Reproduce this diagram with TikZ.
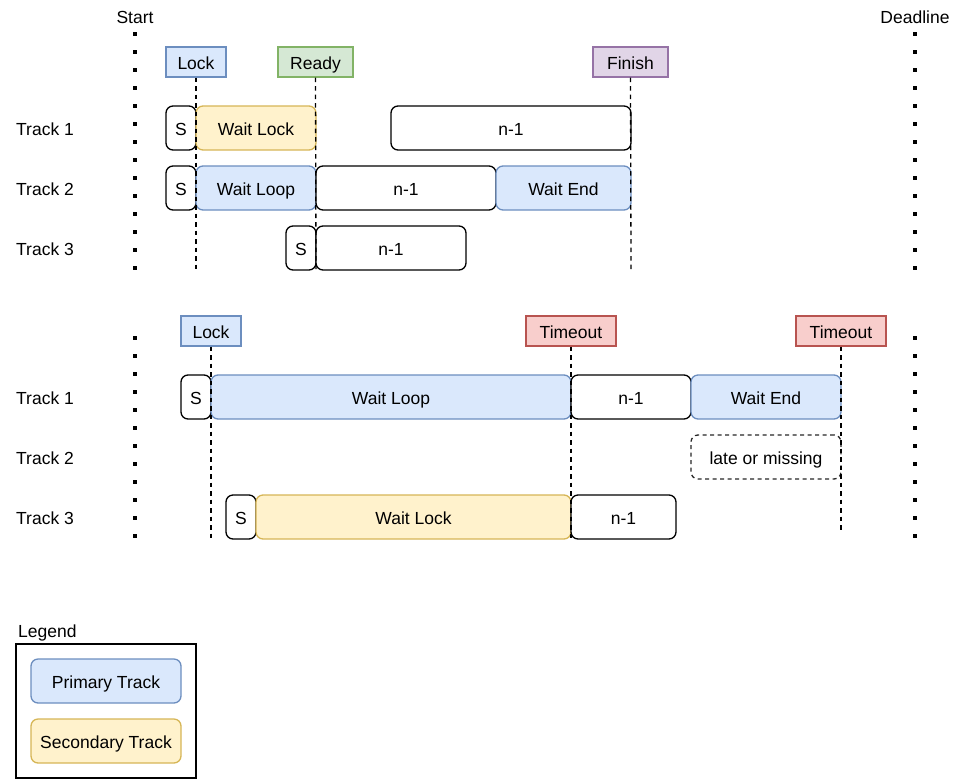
\documentclass[tikz,border=0pt]{standalone}
\usepackage{fontspec}
\setmainfont{Liberation Sans}
\definecolor{blueF}{HTML}{DAE8FC}\definecolor{blueD}{HTML}{6C8EBF}
\definecolor{yelF}{HTML}{FFF2CC}\definecolor{yelD}{HTML}{D6B656}
\definecolor{greF}{HTML}{D5E8D4}\definecolor{greD}{HTML}{82B366}
\definecolor{purF}{HTML}{E1D5E7}\definecolor{purD}{HTML}{9673A6}
\definecolor{redF}{HTML}{F8CECC}\definecolor{redD}{HTML}{B85450}
\tikzset{
 base/.style={font=\fontsize{17.5}{21}\selectfont, inner sep=0pt, text=black, text height=14pt, text depth=0pt},
 lblbox/.style={base, draw, rectangle, minimum height=30, line width=1.3pt},
 trk/.style={base, draw, rounded corners=7pt, minimum height=44, line width=1.3pt},
 plain/.style={trk, draw=black, fill=white},
 prim/.style={trk, draw=blueD, fill=blueF},
 secd/.style={trk, draw=yelD, fill=yelF},
 late/.style={trk, draw=black!85, dashed, dash pattern=on 4pt off 3.5pt},
 marker/.style={draw=black, line width=1.3pt, dash pattern=on 4.5pt off 4pt},
 dotline/.style={draw=black, line width=3.6pt, dash pattern=on 3.6pt off 14.4pt},
 txt/.style={base},
}
\newcommand\tbx[6]{\node[#1, minimum width={#3-#2}] (#6) at ({(#2+#3)/2},#4) {#5};}
\begin{document}
\begin{tikzpicture}[x=1pt,y=-1pt]
\useasboundingbox (0,0) rectangle (953,780);
% top section
\node[txt] (start) at (135,16) {Start};
\node[txt] (deadline) at (915,16) {Deadline};
\coordinate (s1t) at (135,32); \coordinate (s1b) at (135,272);
\coordinate (d1t) at (915,32); \coordinate (d1b) at (915,272);
\draw[dotline] (s1t) -- (s1b);
\draw[dotline] (d1t) -- (d1b);
\tbx{lblbox, draw=blueD, fill=blueF}{166}{226}{62}{Lock}{lock1}
\tbx{lblbox, draw=greD, fill=greF}{278}{353}{62}{Ready}{ready1}
\tbx{lblbox, draw=purD, fill=purF}{593}{668}{62}{Finish}{finish1}
\node[txt, anchor=west] (t11) at (16,128) {Track 1};
\node[txt, anchor=west] (t12) at (16,188) {Track 2};
\node[txt, anchor=west] (t13) at (16,248) {Track 3};
\tbx{plain}{166}{196}{128}{S}{a1}
\tbx{secd}{196}{316}{128}{Wait Lock}{a2}
\tbx{plain}{391}{631}{128}{n-1}{a3}
\tbx{plain}{166}{196}{188}{S}{b1}
\tbx{prim}{196}{316}{188}{Wait Loop}{b2}
\tbx{plain}{316}{496}{188}{n-1}{b3}
\tbx{prim}{496}{631}{188}{Wait End}{b4}
\tbx{plain}{286}{316}{248}{S}{c1}
\tbx{plain}{316}{466}{248}{n-1}{c2}
\coordinate (lock1e) at (196,270);
\coordinate (ready1e) at (316,270);
\coordinate (finish1e) at (631,270);
\draw[marker] (lock1.south) -- (lock1e);
\draw[marker] (ready1.south) -- (ready1e);
\draw[marker] (finish1.south) -- (finish1e);
% bottom section
\coordinate (s2t) at (135,336); \coordinate (s2b) at (135,540);
\coordinate (d2t) at (915,336); \coordinate (d2b) at (915,540);
\draw[dotline] (s2t) -- (s2b);
\draw[dotline] (d2t) -- (d2b);
\tbx{lblbox, draw=blueD, fill=blueF}{181}{241}{331}{Lock}{lock2}
\tbx{lblbox, draw=redD, fill=redF}{526}{616}{331}{Timeout}{to1}
\tbx{lblbox, draw=redD, fill=redF}{796}{886}{331}{Timeout}{to2}
\node[txt, anchor=west] (t21) at (16,397) {Track 1};
\node[txt, anchor=west] (t22) at (16,457) {Track 2};
\node[txt, anchor=west] (t23) at (16,517) {Track 3};
\tbx{plain}{181}{211}{397}{S}{d1}
\tbx{prim}{211}{571}{397}{Wait Loop}{d2}
\tbx{plain}{571}{691}{397}{n-1}{d3}
\tbx{prim}{691}{841}{397}{Wait End}{d4}
\tbx{late}{691}{841}{457}{late or missing}{e1}
\tbx{plain}{226}{256}{517}{S}{f1}
\tbx{secd}{256}{571}{517}{Wait Lock}{f2}
\tbx{plain}{571}{676}{517}{n-1}{f3}
\coordinate (lock2e) at (211,540);
\coordinate (to1e) at (571,540);
\coordinate (to2e) at (841,530);
\draw[marker] (lock2.south) -- (lock2e);
\draw[marker] (to1.south) -- (to1e);
\draw[marker] (to2.south) -- (to2e);
% legend
\node[txt, anchor=west] (legtitle) at (18,630) {Legend};
\node[draw=black, line width=1.3pt, rectangle, minimum width=180, minimum height=134, inner sep=0pt] (legbox) at (106,711) {};
\tbx{prim}{31}{181}{681}{Primary Track}{lp}
\tbx{secd}{31}{181}{741}{Secondary Track}{ls}
\end{tikzpicture}
\end{document}
